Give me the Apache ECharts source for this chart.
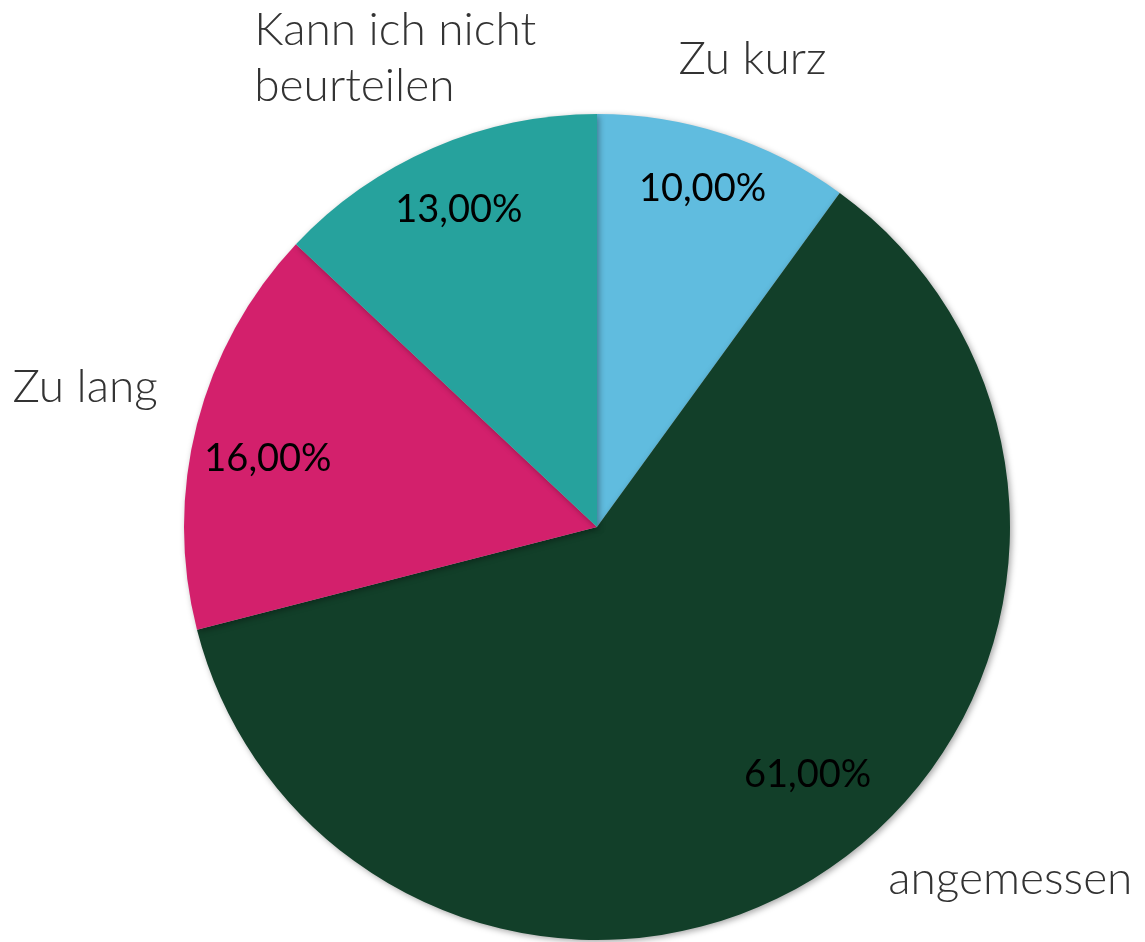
<!DOCTYPE html>
<html><head><meta charset="utf-8">
<script src="https://cdn.jsdelivr.net/npm/echarts@6/dist/echarts.min.js"></script>
<style>html,body{margin:0;padding:0;background:#fff}#c{width:1145px;height:942px}</style>
</head><body><div id="c"></div>
<script>
const categories = ['Zu kurz', 'angemessen', 'Zu lang', 'Kann ich nicht\nbeurteilen'];
const values = [10, 61, 16, 13];
const colors = ['#60BCDF', '#123F29', '#D3206C', '#26A29D'];
// small nudges for labels (dx, dy)
const nameNudge = [[-3, 20], [125, -72], [-15, -12], [-139, 2]];
const pctNudge = [[-2, -7], [15, -40], [8, 18], [0, 2]];

const chart = echarts.init(document.getElementById('c'));
const center = [597, 527];
const fmtPct = v => v.toFixed(2).replace('.', ',') + '%';

chart.setOption({
  animation: false,
  series: [
    {
      type: 'pie', center: center, radius: [0, 413], startAngle: 90, clockwise: true,
      avoidLabelOverlap: false, silent: true,
      label: { show: false }, labelLine: { show: false },
      itemStyle: { borderWidth: 0, shadowBlur: 6, shadowColor: 'rgba(0,0,0,0.35)', shadowOffsetX: 2, shadowOffsetY: 2 },
      data: categories.map((n, i) => ({ name: n, value: values[i], itemStyle: { color: colors[i] } }))
    },
    {
      type: 'pie', center: center, radius: [290, 400], startAngle: 90, clockwise: true,
      avoidLabelOverlap: false, silent: true,
      itemStyle: { color: 'rgba(0,0,0,0)' },
      label: { show: true, position: 'inside', formatter: p => fmtPct(p.value),
        color: '#000', fontFamily: 'Lato', fontSize: 38, fontWeight: 'normal' },
      labelLine: { show: false },
      labelLayout: p => ({ dx: pctNudge[p.dataIndex][0], dy: pctNudge[p.dataIndex][1] }),
      data: categories.map((n, i) => ({ name: n, value: values[i] }))
    },
    {
      type: 'pie', center: center, radius: [470, 550], startAngle: 90, clockwise: true,
      avoidLabelOverlap: false, silent: true,
      itemStyle: { color: 'rgba(0,0,0,0)' },
      label: { show: true, position: 'inside', formatter: p => p.name,
        color: '#333', fontFamily: 'Lato', fontSize: 46, fontWeight: 300, lineHeight: 56 },
      labelLine: { show: false },
      labelLayout: p => {
        const o = { dx: nameNudge[p.dataIndex][0], dy: nameNudge[p.dataIndex][1] };
        if (p.dataIndex === 3) o.align = 'left';
        return o;
      },
      data: categories.map((n, i) => ({ name: n, value: values[i] }))
    }
  ]
});
</script></body></html>
